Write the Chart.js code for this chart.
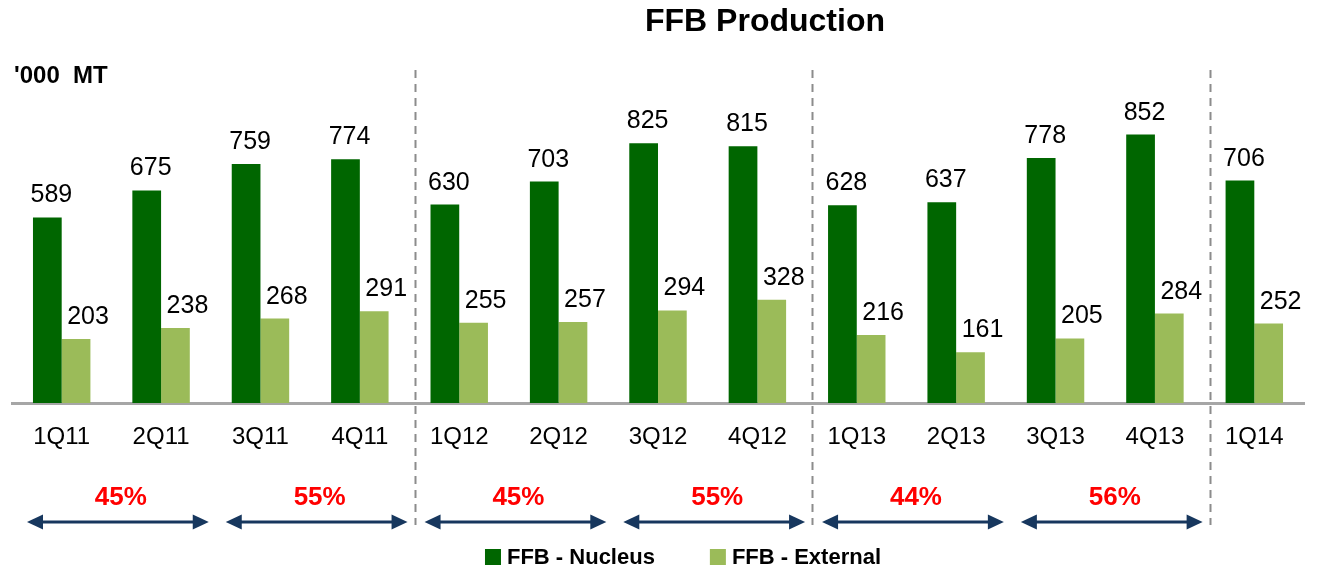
<!DOCTYPE html>
<html>
<head>
<meta charset="utf-8">
<title>FFB Production</title>
<script src="https://cdn.jsdelivr.net/npm/chart.js@4/dist/chart.umd.min.js"></script>
<style>
  html, body { margin: 0; padding: 0; background: #fff; }
  #wrap { width: 1325px; height: 569px; }
</style>
</head>
<body>
<div id="wrap"><canvas id="ffbChart" width="1325" height="569"></canvas></div>
<script>
const quarters = ['1Q11', '2Q11', '3Q11', '4Q11', '1Q12', '2Q12', '3Q12', '4Q12', '1Q13', '2Q13', '3Q13', '4Q13', '1Q14'];
const nucleus = [589, 675, 759, 774, 630, 703, 825, 815, 628, 637, 778, 852, 706];
const external = [203, 238, 268, 291, 255, 257, 294, 328, 216, 161, 205, 284, 252];

// half-year share brackets: first quarter index, last quarter index, label
const halfStarts = [0, 2, 4, 6, 8, 10];
const halfEnds = [1, 3, 5, 7, 9, 11];
const halfShares = ['45%', '55%', '45%', '55%', '44%', '56%'];

// year dividers sit after these quarter indexes
const yearBreaks = [3, 7, 11];

const FONT = '"Liberation Sans", Arial, sans-serif';
const DARK = '#006600';
const LIGHT = '#9BBB59';

const extras = {
  id: 'extras',
  afterDatasetsDraw(chart) {
    const ctx = chart.ctx;

    // value labels
    ctx.save();
    ctx.fillStyle = '#000';
    ctx.font = '25px ' + FONT;
    ctx.textAlign = 'center';
    ctx.textBaseline = 'alphabetic';
    chart.data.datasets.forEach((ds, di) => {
      const meta = chart.getDatasetMeta(di);
      const dx = di === 0 ? 4 : 12;
      meta.data.forEach((bar, i) => {
        ctx.fillText(String(ds.data[i]), bar.x + dx, bar.y - 15);
      });
    });
    ctx.restore();
  },
  afterDraw(chart) {
    const ctx = chart.ctx;
    const x = chart.scales.x;

    // title and unit
    ctx.save();
    ctx.fillStyle = '#000';
    ctx.font = 'bold 32px ' + FONT;
    ctx.textAlign = 'center';
    ctx.textBaseline = 'middle';
    ctx.fillText('FFB Production', 765, 22);
    ctx.font = 'bold 24px ' + FONT;
    ctx.textAlign = 'left';
    ctx.fillText("'000  MT", 14, 76);
    ctx.restore();

    // dashed year dividers
    ctx.save();
    ctx.strokeStyle = '#8C8C8C';
    ctx.lineWidth = 2;
    ctx.setLineDash([8, 6]);
    yearBreaks.forEach(b => {
      const px = Math.round(x.getPixelForValue(b + 0.5) + 5) + 0.5;
      ctx.beginPath();
      ctx.moveTo(px, 70);
      ctx.lineTo(px, 525);
      ctx.stroke();
    });
    ctx.restore();

    // arrows with shares
    ctx.save();
    const ay = 522;
    halfStarts.forEach((s, k) => {
      const x0 = x.getPixelForValue(s - 0.5) + 15;
      const x1 = x.getPixelForValue(halfEnds[k] + 0.5) - 2;
      ctx.strokeStyle = '#17375E';
      ctx.fillStyle = '#17375E';
      ctx.lineWidth = 3;
      ctx.beginPath();
      ctx.moveTo(x0 + 10, ay);
      ctx.lineTo(x1 - 10, ay);
      ctx.stroke();
      ctx.beginPath();
      ctx.moveTo(x0, ay);
      ctx.lineTo(x0 + 16, ay - 7.5);
      ctx.lineTo(x0 + 16, ay + 7.5);
      ctx.closePath();
      ctx.fill();
      ctx.beginPath();
      ctx.moveTo(x1, ay);
      ctx.lineTo(x1 - 16, ay - 7.5);
      ctx.lineTo(x1 - 16, ay + 7.5);
      ctx.closePath();
      ctx.fill();

      ctx.fillStyle = '#FF0000';
      ctx.font = 'bold 26px ' + FONT;
      ctx.textAlign = 'center';
      ctx.textBaseline = 'middle';
      ctx.fillText(halfShares[k], (x0 + x1) / 2 + 3, 498);
    });
    ctx.restore();

    // legend
    ctx.save();
    ctx.font = 'bold 22px ' + FONT;
    ctx.textBaseline = 'middle';
    ctx.textAlign = 'left';
    const ly = 557;
    const box = 16;
    const gap = 55;
    const items = chart.data.datasets.map(ds => ({ text: ds.label, color: ds.backgroundColor }));
    let total = 0;
    items.forEach((it, i) => {
      total += box + 6 + ctx.measureText(it.text).width + (i > 0 ? gap : 0);
    });
    let lx = 683 - total / 2;
    items.forEach(it => {
      ctx.fillStyle = it.color;
      ctx.fillRect(lx, ly - box / 2, box, box);
      ctx.fillStyle = '#000';
      ctx.fillText(it.text, lx + box + 6, ly + 1);
      lx += box + 6 + ctx.measureText(it.text).width + gap;
    });
    ctx.restore();
  }
};

const ctx = document.getElementById('ffbChart').getContext('2d');
new Chart(ctx, {
  type: 'bar',
  data: {
    labels: quarters,
    datasets: [
      { label: 'FFB - Nucleus', data: nucleus, backgroundColor: DARK },
      { label: 'FFB - External', data: external, backgroundColor: LIGHT }
    ]
  },
  options: {
    responsive: false,
    animation: false,
    events: [],
    layout: { padding: { top: 88, left: 12, right: 21, bottom: 0 } },
    datasets: {
      bar: { categoryPercentage: 0.578, barPercentage: 1.0 }
    },
    plugins: {
      legend: { display: false },
      title: { display: false },
      tooltip: { enabled: false }
    },
    scales: {
      x: {
        grid: { display: false },
        border: { display: true, color: '#A6A6A6', width: 3 },
        ticks: {
          color: '#000',
          font: { family: FONT, size: 24 },
          padding: 12,
          maxRotation: 0,
          autoSkip: false
        },
        afterFit(scale) { scale.height = 166; }
      },
      y: {
        display: false,
        min: 0,
        max: 1000
      }
    }
  },
  plugins: [extras]
});
</script>
</body>
</html>
